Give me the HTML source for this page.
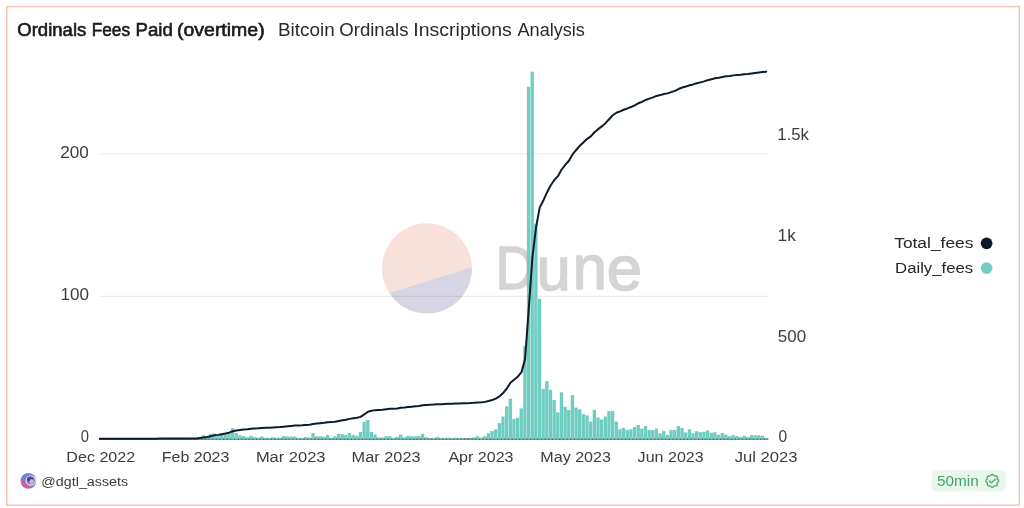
<!DOCTYPE html>
<html><head><meta charset="utf-8">
<style>
html,body{margin:0;padding:0;background:#fff;}
body{width:1024px;height:508px;overflow:hidden;position:relative;font-family:"Liberation Sans", sans-serif;}
svg{position:absolute;left:0;top:0;will-change:transform;}
svg text{font-family:"Liberation Sans", sans-serif;}
</style></head><body>

<svg width="1024" height="508" viewBox="0 0 1024 508">
<rect x="6.7" y="6.6" width="1012.5" height="498.6" fill="none" stroke="#f3bfb6" stroke-width="1.4"/>
<!-- watermark -->
<defs><clipPath id="wc"><circle cx="426.9" cy="268.35" r="45"/></clipPath></defs>
<g clip-path="url(#wc)">
<rect x="380" y="222" width="95" height="95" fill="#f8e1db"/>
<path d="M370,299.1 L480,264.7 L480,320 L370,320 Z" fill="#d7d5e3"/>
</g>
<text transform="matrix(0.9162,0,0,1.0302,495.44,289.27)" x="0" y="0" font-size="60" fill="#d4d4d4" stroke="#d4d4d4" stroke-width="1.6" stroke-linejoin="round">D</text><text transform="matrix(1.0148,0,0,1.0152,536.86,289.78)" x="0" y="0" font-size="60" fill="#d4d4d4" stroke="#d4d4d4" stroke-width="1.6" stroke-linejoin="round">u</text><text transform="matrix(1.0222,0,0,1.0333,572.73,289.27)" x="0" y="0" font-size="60" fill="#d4d4d4" stroke="#d4d4d4" stroke-width="1.6" stroke-linejoin="round">n</text><text transform="matrix(1.0586,0,0,1.0515,606.68,289.85)" x="0" y="0" font-size="60" fill="#d4d4d4" stroke="#d4d4d4" stroke-width="1.6" stroke-linejoin="round">e</text>
<!-- gridlines -->
<g stroke="rgba(0,0,0,0.065)" stroke-width="1.3">
<line x1="99.3" y1="153.9" x2="768.2" y2="153.9"/>
<line x1="99.3" y1="296.4" x2="768.2" y2="296.4"/>
</g>
<line x1="99.3" y1="439" x2="768.2" y2="439" stroke="#5f6665" stroke-width="1.6"/>
<!-- bars -->
<g fill="#70cdc1">
<rect x="198.03" y="437.00" width="3.35" height="2.20"/>
<rect x="201.69" y="435.20" width="3.35" height="4.00"/>
<rect x="205.34" y="437.50" width="3.35" height="1.70"/>
<rect x="208.99" y="434.00" width="3.35" height="5.20"/>
<rect x="212.65" y="433.50" width="3.35" height="5.70"/>
<rect x="216.30" y="436.00" width="3.35" height="3.20"/>
<rect x="219.95" y="433.50" width="3.35" height="5.70"/>
<rect x="223.61" y="434.30" width="3.35" height="4.90"/>
<rect x="227.26" y="432.00" width="3.35" height="7.20"/>
<rect x="230.92" y="428.20" width="3.35" height="11.00"/>
<rect x="234.57" y="432.90" width="3.35" height="6.30"/>
<rect x="238.23" y="435.20" width="3.35" height="4.00"/>
<rect x="241.88" y="436.10" width="3.35" height="3.10"/>
<rect x="245.53" y="437.10" width="3.35" height="2.10"/>
<rect x="249.19" y="435.80" width="3.35" height="3.40"/>
<rect x="252.84" y="437.10" width="3.35" height="2.10"/>
<rect x="256.50" y="437.70" width="3.35" height="1.50"/>
<rect x="260.15" y="436.50" width="3.35" height="2.70"/>
<rect x="263.80" y="437.70" width="3.35" height="1.50"/>
<rect x="267.46" y="438.00" width="3.35" height="1.20"/>
<rect x="271.11" y="437.20" width="3.35" height="2.00"/>
<rect x="274.76" y="437.70" width="3.35" height="1.50"/>
<rect x="278.42" y="437.70" width="3.35" height="1.50"/>
<rect x="282.07" y="436.10" width="3.35" height="3.10"/>
<rect x="285.73" y="436.50" width="3.35" height="2.70"/>
<rect x="289.38" y="436.50" width="3.35" height="2.70"/>
<rect x="293.04" y="436.50" width="3.35" height="2.70"/>
<rect x="296.69" y="437.70" width="3.35" height="1.50"/>
<rect x="300.34" y="438.10" width="3.35" height="1.10"/>
<rect x="304.00" y="437.00" width="3.35" height="2.20"/>
<rect x="307.65" y="437.40" width="3.35" height="1.80"/>
<rect x="311.31" y="433.00" width="3.35" height="6.20"/>
<rect x="314.96" y="436.30" width="3.35" height="2.90"/>
<rect x="318.61" y="436.20" width="3.35" height="3.00"/>
<rect x="322.27" y="436.70" width="3.35" height="2.50"/>
<rect x="325.92" y="434.90" width="3.35" height="4.30"/>
<rect x="329.57" y="438.10" width="3.35" height="1.10"/>
<rect x="333.23" y="436.20" width="3.35" height="3.00"/>
<rect x="336.88" y="433.80" width="3.35" height="5.40"/>
<rect x="340.54" y="434.10" width="3.35" height="5.10"/>
<rect x="344.19" y="434.90" width="3.35" height="4.30"/>
<rect x="347.84" y="433.00" width="3.35" height="6.20"/>
<rect x="351.50" y="434.90" width="3.35" height="4.30"/>
<rect x="355.15" y="435.80" width="3.35" height="3.40"/>
<rect x="358.81" y="432.00" width="3.35" height="7.20"/>
<rect x="362.46" y="421.80" width="3.35" height="17.40"/>
<rect x="366.12" y="420.00" width="3.35" height="19.20"/>
<rect x="369.77" y="432.00" width="3.35" height="7.20"/>
<rect x="373.42" y="434.60" width="3.35" height="4.60"/>
<rect x="377.08" y="437.30" width="3.35" height="1.90"/>
<rect x="380.73" y="437.50" width="3.35" height="1.70"/>
<rect x="384.38" y="436.10" width="3.35" height="3.10"/>
<rect x="388.04" y="436.10" width="3.35" height="3.10"/>
<rect x="391.69" y="438.00" width="3.35" height="1.20"/>
<rect x="395.35" y="436.80" width="3.35" height="2.40"/>
<rect x="399.00" y="434.60" width="3.35" height="4.60"/>
<rect x="402.65" y="437.30" width="3.35" height="1.90"/>
<rect x="406.31" y="435.90" width="3.35" height="3.30"/>
<rect x="409.96" y="436.30" width="3.35" height="2.90"/>
<rect x="413.62" y="436.30" width="3.35" height="2.90"/>
<rect x="417.27" y="435.90" width="3.35" height="3.30"/>
<rect x="420.93" y="433.80" width="3.35" height="5.40"/>
<rect x="424.58" y="437.10" width="3.35" height="2.10"/>
<rect x="428.23" y="438.10" width="3.35" height="1.10"/>
<rect x="431.89" y="437.90" width="3.35" height="1.30"/>
<rect x="435.54" y="436.90" width="3.35" height="2.30"/>
<rect x="439.19" y="437.90" width="3.35" height="1.30"/>
<rect x="442.85" y="438.10" width="3.35" height="1.10"/>
<rect x="446.50" y="437.60" width="3.35" height="1.60"/>
<rect x="450.16" y="437.90" width="3.35" height="1.30"/>
<rect x="453.81" y="437.60" width="3.35" height="1.60"/>
<rect x="457.46" y="438.30" width="3.35" height="0.90"/>
<rect x="461.12" y="438.10" width="3.35" height="1.10"/>
<rect x="464.77" y="438.50" width="3.35" height="0.70"/>
<rect x="468.43" y="438.40" width="3.35" height="0.80"/>
<rect x="472.08" y="437.30" width="3.35" height="1.90"/>
<rect x="475.73" y="436.30" width="3.35" height="2.90"/>
<rect x="479.39" y="437.60" width="3.35" height="1.60"/>
<rect x="483.04" y="436.20" width="3.35" height="3.00"/>
<rect x="486.70" y="433.20" width="3.35" height="6.00"/>
<rect x="490.35" y="431.00" width="3.35" height="8.20"/>
<rect x="494.00" y="429.40" width="3.35" height="9.80"/>
<rect x="497.66" y="423.10" width="3.35" height="16.10"/>
<rect x="501.31" y="416.60" width="3.35" height="22.60"/>
<rect x="504.97" y="406.30" width="3.35" height="32.90"/>
<rect x="508.62" y="398.60" width="3.35" height="40.60"/>
<rect x="512.27" y="418.80" width="3.35" height="20.40"/>
<rect x="515.93" y="417.70" width="3.35" height="21.50"/>
<rect x="519.58" y="408.40" width="3.35" height="30.80"/>
<rect x="523.24" y="346.00" width="3.35" height="93.20"/>
<rect x="526.89" y="86.80" width="3.35" height="352.40"/>
<rect x="530.54" y="71.70" width="3.35" height="367.50"/>
<rect x="534.20" y="223.70" width="3.35" height="215.50"/>
<rect x="537.85" y="298.80" width="3.35" height="140.40"/>
<rect x="541.51" y="388.90" width="3.35" height="50.30"/>
<rect x="545.16" y="381.10" width="3.35" height="58.10"/>
<rect x="548.82" y="389.90" width="3.35" height="49.30"/>
<rect x="552.47" y="400.10" width="3.35" height="39.10"/>
<rect x="556.12" y="412.40" width="3.35" height="26.80"/>
<rect x="559.78" y="392.30" width="3.35" height="46.90"/>
<rect x="563.43" y="406.80" width="3.35" height="32.40"/>
<rect x="567.09" y="410.00" width="3.35" height="29.20"/>
<rect x="570.74" y="395.10" width="3.35" height="44.10"/>
<rect x="574.39" y="407.60" width="3.35" height="31.60"/>
<rect x="578.05" y="409.30" width="3.35" height="29.90"/>
<rect x="581.70" y="414.20" width="3.35" height="25.00"/>
<rect x="585.36" y="415.40" width="3.35" height="23.80"/>
<rect x="589.01" y="421.70" width="3.35" height="17.50"/>
<rect x="592.66" y="409.90" width="3.35" height="29.30"/>
<rect x="596.32" y="417.50" width="3.35" height="21.70"/>
<rect x="599.97" y="419.50" width="3.35" height="19.70"/>
<rect x="603.62" y="416.50" width="3.35" height="22.70"/>
<rect x="607.28" y="411.20" width="3.35" height="28.00"/>
<rect x="610.93" y="410.90" width="3.35" height="28.30"/>
<rect x="614.59" y="421.60" width="3.35" height="17.60"/>
<rect x="618.24" y="429.20" width="3.35" height="10.00"/>
<rect x="621.89" y="427.80" width="3.35" height="11.40"/>
<rect x="625.55" y="429.90" width="3.35" height="9.30"/>
<rect x="629.20" y="429.20" width="3.35" height="10.00"/>
<rect x="632.86" y="426.90" width="3.35" height="12.30"/>
<rect x="636.51" y="425.00" width="3.35" height="14.20"/>
<rect x="640.17" y="428.70" width="3.35" height="10.50"/>
<rect x="643.82" y="426.10" width="3.35" height="13.10"/>
<rect x="647.47" y="429.90" width="3.35" height="9.30"/>
<rect x="651.13" y="430.10" width="3.35" height="9.10"/>
<rect x="654.78" y="428.70" width="3.35" height="10.50"/>
<rect x="658.44" y="433.30" width="3.35" height="5.90"/>
<rect x="662.09" y="430.90" width="3.35" height="8.30"/>
<rect x="665.74" y="434.90" width="3.35" height="4.30"/>
<rect x="669.40" y="429.90" width="3.35" height="9.30"/>
<rect x="673.05" y="430.10" width="3.35" height="9.10"/>
<rect x="676.71" y="426.10" width="3.35" height="13.10"/>
<rect x="680.36" y="427.90" width="3.35" height="11.30"/>
<rect x="684.01" y="432.50" width="3.35" height="6.70"/>
<rect x="687.67" y="429.30" width="3.35" height="9.90"/>
<rect x="691.32" y="433.30" width="3.35" height="5.90"/>
<rect x="694.98" y="431.20" width="3.35" height="8.00"/>
<rect x="698.63" y="432.20" width="3.35" height="7.00"/>
<rect x="702.28" y="431.80" width="3.35" height="7.40"/>
<rect x="705.94" y="430.50" width="3.35" height="8.70"/>
<rect x="709.59" y="432.70" width="3.35" height="6.50"/>
<rect x="713.25" y="432.20" width="3.35" height="7.00"/>
<rect x="716.90" y="434.90" width="3.35" height="4.30"/>
<rect x="720.55" y="432.90" width="3.35" height="6.30"/>
<rect x="724.21" y="434.50" width="3.35" height="4.70"/>
<rect x="727.86" y="436.20" width="3.35" height="3.00"/>
<rect x="731.51" y="435.20" width="3.35" height="4.00"/>
<rect x="735.17" y="436.00" width="3.35" height="3.20"/>
<rect x="738.82" y="436.90" width="3.35" height="2.30"/>
<rect x="742.48" y="435.80" width="3.35" height="3.40"/>
<rect x="746.13" y="437.00" width="3.35" height="2.20"/>
<rect x="749.79" y="435.10" width="3.35" height="4.10"/>
<rect x="753.44" y="435.30" width="3.35" height="3.90"/>
<rect x="757.09" y="435.30" width="3.35" height="3.90"/>
<rect x="760.75" y="435.70" width="3.35" height="3.50"/>
<rect x="764.40" y="438.10" width="3.35" height="1.10"/>
</g>
<line x1="99.3" y1="439.1" x2="768.2" y2="439.1" stroke="#555b5a" stroke-width="1.3" stroke-dasharray="1.1 2.554" stroke-dashoffset="-3.177"/>
<path d="M99.80,438.75 L101.20,438.75 L104.85,438.74 L108.51,438.73 L112.16,438.72 L115.82,438.71 L119.47,438.71 L123.12,438.70 L126.78,438.69 L130.43,438.68 L134.09,438.68 L137.74,438.67 L141.39,438.66 L145.05,438.65 L148.70,438.65 L152.36,438.64 L156.01,438.63 L159.66,438.62 L163.32,438.62 L166.97,438.61 L170.63,438.60 L174.28,438.59 L177.93,438.59 L181.59,438.58 L185.24,438.57 L188.90,438.56 L192.55,438.56 L196.20,438.50 L199.86,438.07 L203.51,437.39 L207.17,437.03 L210.82,436.18 L214.47,435.26 L218.13,434.87 L221.78,434.17 L225.44,433.58 L229.09,432.66 L232.74,431.21 L236.40,430.42 L240.05,429.95 L243.71,429.54 L247.36,429.28 L251.01,428.82 L254.67,428.55 L258.32,428.37 L261.98,428.02 L265.63,427.83 L269.28,427.69 L272.94,427.44 L276.59,427.25 L280.25,427.07 L283.90,426.66 L287.55,426.31 L291.21,425.95 L294.86,425.60 L298.52,425.42 L302.17,425.29 L305.82,425.01 L309.48,424.78 L313.13,423.93 L316.79,423.55 L320.44,423.16 L324.09,422.83 L327.75,422.25 L331.40,422.12 L335.06,421.73 L338.71,420.99 L342.36,420.30 L346.02,419.72 L349.67,418.87 L353.33,418.29 L356.98,417.84 L360.63,416.85 L364.29,414.42 L367.94,411.74 L371.60,410.75 L375.25,410.13 L378.90,409.89 L382.56,409.67 L386.21,409.26 L389.87,408.85 L393.52,408.71 L397.17,408.40 L400.83,407.78 L404.48,407.54 L408.14,407.10 L411.79,406.72 L415.44,406.34 L419.10,405.90 L422.75,405.16 L426.41,404.90 L430.06,404.77 L433.71,404.61 L437.37,404.32 L441.02,404.16 L444.68,404.03 L448.33,403.84 L451.98,403.68 L455.64,403.48 L459.29,403.38 L462.95,403.26 L466.60,403.19 L470.25,403.10 L473.91,402.86 L477.56,402.48 L481.22,402.28 L484.87,401.89 L488.52,401.07 L492.18,399.94 L495.83,398.58 L499.49,396.33 L503.14,393.12 L506.79,388.44 L510.45,382.68 L514.10,379.77 L517.76,376.70 L521.41,372.37 L525.06,359.29 L528.72,309.57 L532.37,257.72 L536.03,227.35 L539.68,207.60 L543.33,200.58 L546.99,192.46 L550.64,185.56 L554.30,180.00 L557.95,176.18 L561.60,169.52 L565.26,164.91 L568.91,160.75 L572.57,154.48 L576.22,149.98 L579.87,145.72 L583.53,142.19 L587.18,138.84 L590.84,136.37 L594.49,132.23 L598.14,129.17 L601.80,126.39 L605.45,123.19 L609.11,119.24 L612.76,115.24 L616.41,112.76 L620.07,111.35 L623.72,109.75 L627.38,108.44 L631.03,107.03 L634.68,105.30 L638.34,103.30 L641.99,101.82 L645.65,99.97 L649.30,98.66 L652.95,97.38 L656.61,95.90 L660.26,95.08 L663.92,93.94 L667.57,93.37 L671.22,92.10 L674.88,90.85 L678.53,89.04 L682.19,87.48 L685.84,86.57 L689.49,85.21 L693.15,84.41 L696.80,83.32 L700.46,82.37 L704.11,81.36 L707.76,80.17 L711.42,79.29 L715.07,78.34 L718.73,77.77 L722.38,76.92 L726.03,76.29 L729.69,75.91 L733.34,75.38 L737.00,74.96 L740.65,74.68 L744.30,74.24 L747.96,73.96 L751.61,73.42 L755.27,72.91 L758.92,72.40 L762.57,71.94 L766.23,71.82" fill="none" stroke="#0d1c2b" stroke-width="2.0" stroke-linejoin="round" stroke-linecap="round"/>
<!-- axis labels -->
<text x="60.24" y="157.6" font-size="16.2" font-weight="400" fill="#3d3d3d" textLength="28.68" lengthAdjust="spacingAndGlyphs">200</text>
<text x="60.45" y="300.1" font-size="16.2" font-weight="400" fill="#3d3d3d" textLength="28.47" lengthAdjust="spacingAndGlyphs">100</text>
<text x="80.7" y="442.1" font-size="16.2" font-weight="400" fill="#3d3d3d" textLength="8.21" lengthAdjust="spacingAndGlyphs">0</text>
<text x="777.37" y="140" font-size="16.2" font-weight="400" fill="#3d3d3d" textLength="31.63" lengthAdjust="spacingAndGlyphs">1.5k</text>
<text x="777.53" y="241" font-size="16.2" font-weight="400" fill="#3d3d3d" textLength="18.29" lengthAdjust="spacingAndGlyphs">1k</text>
<text x="777.85" y="341.6" font-size="16.2" font-weight="400" fill="#3d3d3d" textLength="28.26" lengthAdjust="spacingAndGlyphs">500</text>
<text x="778.6" y="442.1" font-size="16.2" font-weight="400" fill="#3d3d3d" textLength="8.61" lengthAdjust="spacingAndGlyphs">0</text>
<text x="66.35" y="462" font-size="15.3" font-weight="400" fill="#3d3d3d" textLength="68.86" lengthAdjust="spacingAndGlyphs">Dec 2022</text>
<text x="161.75" y="462" font-size="15.3" font-weight="400" fill="#3d3d3d" textLength="67.62" lengthAdjust="spacingAndGlyphs">Feb 2023</text>
<text x="255.92" y="462" font-size="15.3" font-weight="400" fill="#3d3d3d" textLength="69.55" lengthAdjust="spacingAndGlyphs">Mar 2023</text>
<text x="351.63" y="462" font-size="15.3" font-weight="400" fill="#3d3d3d" textLength="68.93" lengthAdjust="spacingAndGlyphs">Mar 2023</text>
<text x="448.4" y="462" font-size="15.3" font-weight="400" fill="#3d3d3d" textLength="65.1" lengthAdjust="spacingAndGlyphs">Apr 2023</text>
<text x="540.25" y="462" font-size="15.3" font-weight="400" fill="#3d3d3d" textLength="70.75" lengthAdjust="spacingAndGlyphs">May 2023</text>
<text x="637.6" y="462" font-size="15.3" font-weight="400" fill="#3d3d3d" textLength="66.15" lengthAdjust="spacingAndGlyphs">Jun 2023</text>
<text x="734.7" y="462" font-size="15.3" font-weight="400" fill="#3d3d3d" textLength="62.92" lengthAdjust="spacingAndGlyphs">Jul 2023</text>
<!-- title -->
<text x="17.3" y="36" font-size="17.5" font-weight="400" fill="#1a1a1a" textLength="68.98" lengthAdjust="spacingAndGlyphs" stroke="#1a1a1a" stroke-width="0.6">Ordinals</text><text x="91.72" y="36" font-size="17.5" font-weight="400" fill="#1a1a1a" textLength="38.29" lengthAdjust="spacingAndGlyphs" stroke="#1a1a1a" stroke-width="0.6">Fees</text><text x="135.54" y="36" font-size="17.5" font-weight="400" fill="#1a1a1a" textLength="37.26" lengthAdjust="spacingAndGlyphs" stroke="#1a1a1a" stroke-width="0.6">Paid</text><text x="176.99" y="36" font-size="17.5" font-weight="400" fill="#1a1a1a" textLength="87.67" lengthAdjust="spacingAndGlyphs" stroke="#1a1a1a" stroke-width="0.6">(overtime)</text>
<text x="278.02" y="36" font-size="17.5" font-weight="400" fill="#2a2a2a" textLength="56.65" lengthAdjust="spacingAndGlyphs">Bitcoin</text><text x="339.24" y="36" font-size="17.5" font-weight="400" fill="#2a2a2a" textLength="69.25" lengthAdjust="spacingAndGlyphs">Ordinals</text><text x="413.39" y="36" font-size="17.5" font-weight="400" fill="#2a2a2a" textLength="98.49" lengthAdjust="spacingAndGlyphs">Inscriptions</text><text x="517.5" y="36" font-size="17.5" font-weight="400" fill="#2a2a2a" textLength="67.38" lengthAdjust="spacingAndGlyphs">Analysis</text>
<!-- legend -->
<text x="894.2" y="248.2" font-size="15.3" font-weight="400" fill="#262626" textLength="79.23" lengthAdjust="spacingAndGlyphs">Total_fees</text>
<text x="895.11" y="273.2" font-size="15.3" font-weight="400" fill="#262626" textLength="77.95" lengthAdjust="spacingAndGlyphs">Daily_fees</text>
<circle cx="986.6" cy="243.3" r="5.85" fill="#0b1a2b"/>
<circle cx="986.6" cy="268.2" r="5.85" fill="#72cec2"/>
<!-- footer -->
<defs><clipPath id="avc"><circle cx="28.4" cy="480.8" r="7.9"/></clipPath>
<filter id="avf" x="-20%" y="-20%" width="140%" height="140%"><feGaussianBlur stdDeviation="0.45"/></filter><linearGradient id="avb" x1="0" y1="0" x2="1" y2="1"><stop offset="0" stop-color="#5d7be0"/><stop offset="1" stop-color="#7a6fd0"/></linearGradient></defs>
<g clip-path="url(#avc)" opacity="0.92">
<g filter="url(#avf)">
<rect x="20" y="472" width="17" height="17" fill="url(#avb)"/>
<path d="M19,478 L27,483 L33,490 L19,490 Z" fill="#c85290"/>
<circle cx="30.8" cy="480.6" r="4.6" fill="none" stroke="#c9cdf3" stroke-width="1.4"/>
<ellipse cx="30.2" cy="479.2" rx="3.1" ry="2.6" fill="#3c3673"/>
<ellipse cx="31.6" cy="481.6" rx="2.1" ry="2.4" fill="#e9a6b6"/>
</g></g>
<text x="41.36" y="486" font-size="13.7" font-weight="400" fill="#3a3a3a" textLength="86.79" lengthAdjust="spacingAndGlyphs">@dgtl_assets</text>
<rect x="931.7" y="470.4" width="73.7" height="21" rx="4.5" fill="#e8f6ed"/>
<text x="936.92" y="486" font-size="14.2" font-weight="400" fill="#41a565" textLength="41.79" lengthAdjust="spacingAndGlyphs">50min</text>
<g transform="translate(992.25,480.9)" fill="none" stroke="#4caf6c" stroke-width="1.35" stroke-linejoin="round" stroke-linecap="round">
<path d="M0.00,-6.45 L0.11,-6.44 L0.22,-6.43 L0.34,-6.40 L0.44,-6.36 L0.55,-6.31 L0.66,-6.25 L0.76,-6.18 L0.86,-6.11 L0.95,-6.03 L1.05,-5.95 L1.14,-5.86 L1.23,-5.77 L1.31,-5.68 L1.39,-5.59 L1.48,-5.51 L1.56,-5.42 L1.63,-5.35 L1.71,-5.27 L1.79,-5.21 L1.87,-5.15 L1.96,-5.10 L2.04,-5.05 L2.13,-5.02 L2.22,-4.99 L2.32,-4.97 L2.41,-4.95 L2.52,-4.94 L2.62,-4.94 L2.74,-4.93 L2.85,-4.94 L2.97,-4.94 L3.09,-4.94 L3.21,-4.95 L3.34,-4.95 L3.46,-4.95 L3.59,-4.94 L3.71,-4.93 L3.84,-4.91 L3.96,-4.88 L4.07,-4.85 L4.18,-4.81 L4.29,-4.76 L4.39,-4.70 L4.48,-4.64 L4.56,-4.56 L4.64,-4.48 L4.70,-4.39 L4.76,-4.29 L4.81,-4.18 L4.85,-4.07 L4.88,-3.96 L4.91,-3.84 L4.93,-3.71 L4.94,-3.59 L4.95,-3.46 L4.95,-3.34 L4.95,-3.21 L4.94,-3.09 L4.94,-2.97 L4.94,-2.85 L4.93,-2.74 L4.94,-2.62 L4.94,-2.52 L4.95,-2.41 L4.97,-2.32 L4.99,-2.22 L5.02,-2.13 L5.05,-2.04 L5.10,-1.96 L5.15,-1.87 L5.21,-1.79 L5.27,-1.71 L5.35,-1.63 L5.42,-1.56 L5.51,-1.48 L5.59,-1.39 L5.68,-1.31 L5.77,-1.23 L5.86,-1.14 L5.95,-1.05 L6.03,-0.95 L6.11,-0.86 L6.18,-0.76 L6.25,-0.66 L6.31,-0.55 L6.36,-0.44 L6.40,-0.34 L6.43,-0.22 L6.44,-0.11 L6.45,-0.00 L6.44,0.11 L6.43,0.22 L6.40,0.34 L6.36,0.44 L6.31,0.55 L6.25,0.66 L6.18,0.76 L6.11,0.86 L6.03,0.95 L5.95,1.05 L5.86,1.14 L5.77,1.23 L5.68,1.31 L5.59,1.39 L5.51,1.48 L5.42,1.56 L5.35,1.63 L5.27,1.71 L5.21,1.79 L5.15,1.87 L5.10,1.96 L5.05,2.04 L5.02,2.13 L4.99,2.22 L4.97,2.32 L4.95,2.41 L4.94,2.52 L4.94,2.62 L4.93,2.74 L4.94,2.85 L4.94,2.97 L4.94,3.09 L4.95,3.21 L4.95,3.34 L4.95,3.46 L4.94,3.59 L4.93,3.71 L4.91,3.84 L4.88,3.96 L4.85,4.07 L4.81,4.18 L4.76,4.29 L4.70,4.39 L4.64,4.48 L4.56,4.56 L4.48,4.64 L4.39,4.70 L4.29,4.76 L4.18,4.81 L4.07,4.85 L3.96,4.88 L3.84,4.91 L3.71,4.93 L3.59,4.94 L3.46,4.95 L3.34,4.95 L3.21,4.95 L3.09,4.94 L2.97,4.94 L2.85,4.94 L2.74,4.93 L2.62,4.94 L2.52,4.94 L2.41,4.95 L2.32,4.97 L2.22,4.99 L2.13,5.02 L2.04,5.05 L1.96,5.10 L1.87,5.15 L1.79,5.21 L1.71,5.27 L1.63,5.35 L1.56,5.42 L1.48,5.51 L1.39,5.59 L1.31,5.68 L1.23,5.77 L1.14,5.86 L1.05,5.95 L0.95,6.03 L0.86,6.11 L0.76,6.18 L0.66,6.25 L0.55,6.31 L0.44,6.36 L0.34,6.40 L0.22,6.43 L0.11,6.44 L0.00,6.45 L-0.11,6.44 L-0.22,6.43 L-0.34,6.40 L-0.44,6.36 L-0.55,6.31 L-0.66,6.25 L-0.76,6.18 L-0.86,6.11 L-0.95,6.03 L-1.05,5.95 L-1.14,5.86 L-1.23,5.77 L-1.31,5.68 L-1.39,5.59 L-1.48,5.51 L-1.56,5.42 L-1.63,5.35 L-1.71,5.27 L-1.79,5.21 L-1.87,5.15 L-1.96,5.10 L-2.04,5.05 L-2.13,5.02 L-2.22,4.99 L-2.32,4.97 L-2.41,4.95 L-2.52,4.94 L-2.62,4.94 L-2.74,4.93 L-2.85,4.94 L-2.97,4.94 L-3.09,4.94 L-3.21,4.95 L-3.34,4.95 L-3.46,4.95 L-3.59,4.94 L-3.71,4.93 L-3.84,4.91 L-3.96,4.88 L-4.07,4.85 L-4.18,4.81 L-4.29,4.76 L-4.39,4.70 L-4.48,4.64 L-4.56,4.56 L-4.64,4.48 L-4.70,4.39 L-4.76,4.29 L-4.81,4.18 L-4.85,4.07 L-4.88,3.96 L-4.91,3.84 L-4.93,3.71 L-4.94,3.59 L-4.95,3.46 L-4.95,3.34 L-4.95,3.21 L-4.94,3.09 L-4.94,2.97 L-4.94,2.85 L-4.93,2.74 L-4.94,2.62 L-4.94,2.52 L-4.95,2.41 L-4.97,2.32 L-4.99,2.22 L-5.02,2.13 L-5.05,2.04 L-5.10,1.96 L-5.15,1.87 L-5.21,1.79 L-5.27,1.71 L-5.35,1.63 L-5.42,1.56 L-5.51,1.48 L-5.59,1.39 L-5.68,1.31 L-5.77,1.23 L-5.86,1.14 L-5.95,1.05 L-6.03,0.95 L-6.11,0.86 L-6.18,0.76 L-6.25,0.66 L-6.31,0.55 L-6.36,0.44 L-6.40,0.34 L-6.43,0.22 L-6.44,0.11 L-6.45,0.00 L-6.44,-0.11 L-6.43,-0.22 L-6.40,-0.34 L-6.36,-0.44 L-6.31,-0.55 L-6.25,-0.66 L-6.18,-0.76 L-6.11,-0.86 L-6.03,-0.95 L-5.95,-1.05 L-5.86,-1.14 L-5.77,-1.23 L-5.68,-1.31 L-5.59,-1.39 L-5.51,-1.48 L-5.42,-1.56 L-5.35,-1.63 L-5.27,-1.71 L-5.21,-1.79 L-5.15,-1.87 L-5.10,-1.96 L-5.05,-2.04 L-5.02,-2.13 L-4.99,-2.22 L-4.97,-2.32 L-4.95,-2.41 L-4.94,-2.52 L-4.94,-2.62 L-4.93,-2.74 L-4.94,-2.85 L-4.94,-2.97 L-4.94,-3.09 L-4.95,-3.21 L-4.95,-3.34 L-4.95,-3.46 L-4.94,-3.59 L-4.93,-3.71 L-4.91,-3.84 L-4.88,-3.96 L-4.85,-4.07 L-4.81,-4.18 L-4.76,-4.29 L-4.70,-4.39 L-4.64,-4.48 L-4.56,-4.56 L-4.48,-4.64 L-4.39,-4.70 L-4.29,-4.76 L-4.18,-4.81 L-4.07,-4.85 L-3.96,-4.88 L-3.84,-4.91 L-3.71,-4.93 L-3.59,-4.94 L-3.46,-4.95 L-3.34,-4.95 L-3.21,-4.95 L-3.09,-4.94 L-2.97,-4.94 L-2.85,-4.94 L-2.74,-4.93 L-2.62,-4.94 L-2.52,-4.94 L-2.41,-4.95 L-2.32,-4.97 L-2.22,-4.99 L-2.13,-5.02 L-2.04,-5.05 L-1.96,-5.10 L-1.87,-5.15 L-1.79,-5.21 L-1.71,-5.27 L-1.63,-5.35 L-1.56,-5.42 L-1.48,-5.51 L-1.39,-5.59 L-1.31,-5.68 L-1.23,-5.77 L-1.14,-5.86 L-1.05,-5.95 L-0.95,-6.03 L-0.86,-6.11 L-0.76,-6.18 L-0.66,-6.25 L-0.55,-6.31 L-0.44,-6.36 L-0.34,-6.40 L-0.22,-6.43 L-0.11,-6.44 L-0.00,-6.45Z"/>
<path d="M-3,0 L-0.75,1.9 L3,-1.6"/>
</g>
</svg>
</body></html>
